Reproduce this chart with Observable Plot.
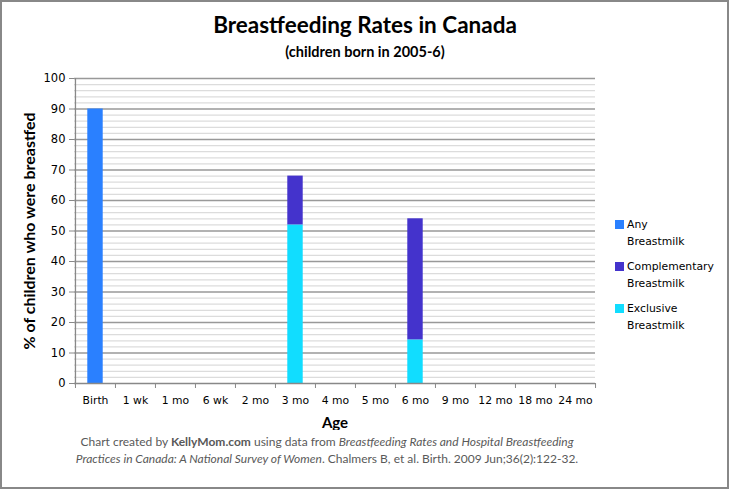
<!DOCTYPE html>
<html><head><meta charset="utf-8">
<script src="https://cdn.jsdelivr.net/npm/d3@7"></script>
<script src="https://cdn.jsdelivr.net/npm/@observablehq/plot@0.6"></script>
<style>
  html,body{margin:0;padding:0;background:#fff;}
  #frame{position:absolute;left:0;top:0;width:729px;height:489px;box-sizing:border-box;border:2px solid #888;z-index:10;pointer-events:none;}
  #title{position:absolute;left:0;width:730px;top:11px;text-align:center;font:bold 22.5px Lato,sans-serif;color:#000;}
  #subtitle{position:absolute;left:0;width:730px;top:43px;text-align:center;font:bold 14.5px Lato,sans-serif;color:#000;}
  #plot{position:absolute;left:0;top:70px;}
  #legend{position:absolute;left:615px;top:216px;font:10.8px "DejaVu Sans",sans-serif;color:#000;}
  .item{position:relative;padding-left:12px;line-height:17px;margin-bottom:8px;}
  .sw{position:absolute;left:0;top:4px;width:9px;height:9px;}
  #caption{position:absolute;left:0;width:654px;top:433px;text-align:center;font:12px Lato,sans-serif;color:#595959;line-height:17px;}
</style>
</head><body>
<div id="frame"></div>
<div id="title">Breastfeeding Rates in Canada</div>
<div id="subtitle">(children born in 2005-6)</div>
<div id="plot"></div>
<div id="legend"></div>
<div id="caption">Chart created by <b>KellyMom.com</b> using data from <i>Breastfeeding Rates and Hospital Breastfeeding<br>Practices in Canada: A National Survey of Women</i>. Chalmers B, et al. Birth. 2009 Jun;36(2):122-32.</div>
<script>
const ages = ["Birth","1 wk","1 mo","6 wk","2 mo","3 mo","4 mo","5 mo","6 mo","9 mo","12 mo","18 mo","24 mo"];
const seriesNames = ["Exclusive Breastmilk","Complementary Breastmilk","Any Breastmilk"];
const seriesColors = ["#11ddff","#4433cc","#2a80ff"];
const exclusiveBreastmilk     = [null,null,null,null,null,52,null,null,14.3,null,null,null,null];
const complementaryBreastmilk = [null,null,null,null,null,16,null,null,39.7,null,null,null,null];
const anyBreastmilk           = [90,null,null,null,null,null,null,null,null,null,null,null,null];
const yMajorTicks = d3.range(0, 101, 10);
const yMinorTicks = d3.range(0, 101, 2);
const legendOrder = ["Any Breastmilk","Complementary Breastmilk","Exclusive Breastmilk"];

const seriesValues = [exclusiveBreastmilk, complementaryBreastmilk, anyBreastmilk];
const rows = [];
ages.forEach((age, i) => {
  seriesValues.forEach((vals, s) => {
    if (vals[i] != null) rows.push({age, series: seriesNames[s], value: vals[i]});
  });
});

const W = 730, H = 360, ML = 74, MR = 135, MT = 8, MB = 47;
const bw = (W - ML - MR) / ages.length;
const barW = 15.5;

const chart = Plot.plot({
  width: W, height: H,
  marginLeft: ML, marginRight: MR, marginTop: MT, marginBottom: MB,
  style: {fontFamily: "'DejaVu Sans', sans-serif", fontSize: "10.8px", color: "#000", background: "transparent"},
  x: {domain: ages, padding: 0, label: null},
  y: {domain: [0, 100], label: null},
  color: {domain: seriesNames, range: seriesColors},
  marks: [
    Plot.ruleY(yMinorTicks.filter(d => d % 10 !== 0), {y: d => d, stroke: "#dcdcdc", strokeWidth: 1.3}),
    Plot.ruleY(yMajorTicks.filter(d => d !== 0), {y: d => d, stroke: "#999", strokeWidth: 1.3}),
    Plot.barY(rows, Plot.stackY({x: "age", y: "value", fill: "series", order: null, insetLeft: (bw - barW) / 2, insetRight: (bw - barW) / 2})),
    Plot.axisY({ticks: yMajorTicks, tickSize: 5, tickPadding: 4, stroke: "#888", fontSize: 11.5, fontFamily: "'DejaVu Sans', sans-serif",
      label: "% of children who were breastfed", labelAnchor: "center", labelArrow: "none", labelOffset: 51}),
    Plot.axisX({tickSize: 0, tickPadding: 13, fontSize: 10.8,
      label: "Age", labelAnchor: "center", labelArrow: "none", labelOffset: 44}),
    Plot.ruleX(ages, {x: d => d, y1: 0, y2: 0, dx: -bw / 2, insetBottom: -5, stroke: "#888"}),
    Plot.ruleX([ages[ages.length - 1]], {x: d => d, y1: 0, y2: 0, dx: bw / 2, insetBottom: -5, stroke: "#888"}),
    Plot.ruleY([0], {stroke: "#888", strokeWidth: 1.3}),
    Plot.ruleX([ages[0]], {x: d => d, y1: 0, y2: 100, dx: -bw / 2, stroke: "#888", strokeWidth: 1.3})
  ]
});
document.getElementById("plot").appendChild(chart);

d3.select(chart).selectAll("[aria-label='y-axis label'] text, [aria-label='x-axis label'] text")
  .style("font-weight", "bold").style("font-family", "Lato, sans-serif");
d3.select(chart).selectAll("[aria-label='y-axis label'] text").style("font-size", "16px");
d3.select(chart).selectAll("[aria-label='x-axis label'] text").style("font-size", "15px");

const legend = d3.select("#legend");
legendOrder.forEach(name => {
  const parts = name.split(" ");
  const it = legend.append("div").attr("class", "item");
  it.append("div").attr("class", "sw").style("background", seriesColors[seriesNames.indexOf(name)]);
  it.append("div").html(parts[0] + "<br>" + parts.slice(1).join(" "));
});
</script>
</body></html>
